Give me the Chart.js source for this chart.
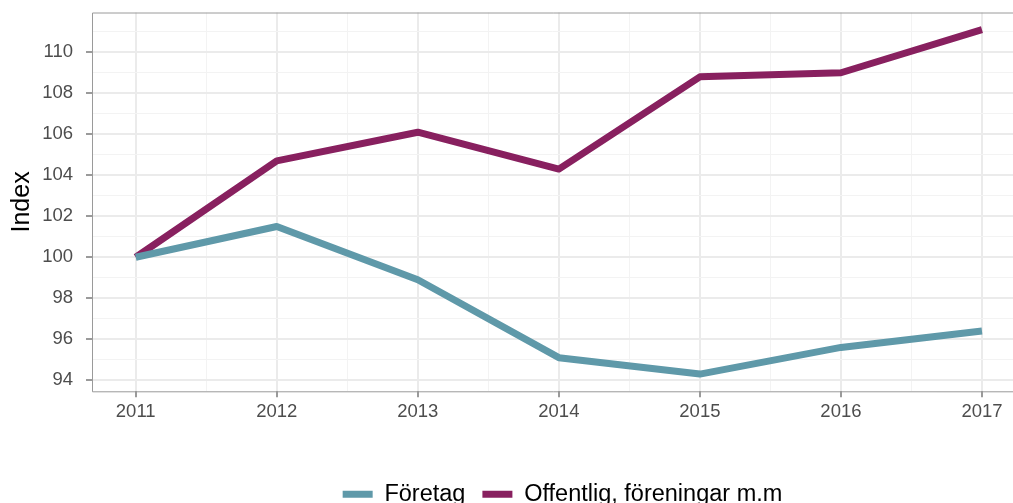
<html>
<head>
    <meta charset="utf-8"/>
    <title>Index</title>
    <script src="https://cdn.jsdelivr.net/npm/chart.js@4"></script>
    <style>
        body { margin: 0; background: #fff; }
        .chart-container { position: relative; width: 1013px; height: 503px; }
    </style>
</head>
<body>
    <div class="chart-container">
        <canvas id="indexChart"></canvas>
    </div>
    <script>
        const years = [2011, 2012, 2013, 2014, 2015, 2016, 2017];
        const foretag = [100, 101.5, 98.9, 95.1, 94.3, 95.6, 96.4];
        const offentlig = [100, 104.7, 106.1, 104.3, 108.8, 109.0, 111.1];
        const yTicks = [94, 96, 98, 100, 102, 104, 106, 108, 110];

        const font = "'Liberation Sans', Arial, sans-serif";
        const majorGrid = '#ebebeb';
        const minorGrid = '#f3f3f3';

        // border on top, left and bottom of the panel
        const panelBorder = {
            id: 'panelBorder',
            afterLayout(chart) {
                // legend in the reference sits a bit right of center and lower
                chart.legend.left += 56;
                chart.legend.right += 56;
                chart.legend.top += 13;
                chart.legend.bottom += 13;
            },
            beforeDatasetsDraw(chart) {
                const a = chart.chartArea;
                const ctx = chart.ctx;
                ctx.save();
                ctx.strokeStyle = '#9a9a9a';
                ctx.lineWidth = 1;
                ctx.beginPath();
                ctx.moveTo(chart.width + 5, a.top + 0.5);
                ctx.lineTo(a.left + 0.5, a.top + 0.5);
                ctx.lineTo(a.left + 0.5, a.bottom + 0.5);
                ctx.lineTo(chart.width + 5, a.bottom + 0.5);
                ctx.stroke();
                ctx.restore();
            }
        };

        function toPoints(values) {
            return years.map((y, i) => ({x: y, y: values[i]}));
        }

        const config = {
            type: 'line',
            data: {
                datasets: [{
                    label: 'Företag',
                    data: toPoints(foretag),
                    borderColor: '#5f99a9',
                    backgroundColor: '#5f99a9',
                    borderWidth: 7,
                    borderCapStyle: 'butt',
                    borderJoinStyle: 'round',
                    pointRadius: 0,
                    tension: 0
                }, {
                    label: 'Offentlig, föreningar m.m',
                    data: toPoints(offentlig),
                    borderColor: '#88205f',
                    backgroundColor: '#88205f',
                    borderWidth: 7,
                    borderCapStyle: 'butt',
                    borderJoinStyle: 'round',
                    pointRadius: 0,
                    tension: 0
                }]
            },
            options: {
                responsive: true,
                maintainAspectRatio: false,
                animation: false,
                layout: { padding: { top: 12.5, right: 0, left: 0, bottom: 0 } },
                plugins: {
                    tooltip: { enabled: false },
                    legend: {
                        position: 'bottom',
                        labels: {
                            font: { family: font, size: 23.5 },
                            color: '#000',
                            boxWidth: 30,
                            boxHeight: 7,
                            padding: 17,
                            generateLabels(chart) {
                                const items = Chart.defaults.plugins.legend.labels.generateLabels(chart);
                                items.forEach(it => { it.lineWidth = 0; });
                                return items;
                            }
                        }
                    }
                },
                scales: {
                    x: {
                        type: 'linear',
                        min: 2010.69,
                        max: 2017.22,
                        afterBuildTicks(axis) {
                            const t = [];
                            for (let v = 2011; v <= 2017; v += 0.5) t.push({value: v});
                            axis.ticks = t;
                        },
                        afterFit(axis) { axis.height += 25; },
                        border: { display: false },
                        grid: {
                            color: c => Number.isInteger(c.tick.value) ? majorGrid : minorGrid,
                            lineWidth: c => Number.isInteger(c.tick.value) ? 2 : 1,
                            tickColor: c => Number.isInteger(c.tick.value) ? '#9a9a9a' : 'rgba(0,0,0,0)',
                            tickLength: 6,
                            drawTicks: true
                        },
                        ticks: {
                            autoSkip: false,
                            maxRotation: 0,
                            padding: 4,
                            font: { family: font, size: 18.5 },
                            color: '#4d4d4d',
                            callback: v => Number.isInteger(v) ? String(v) : ''
                        }
                    },
                    y: {
                        min: 93.46,
                        max: 111.94,
                        afterBuildTicks(axis) {
                            const t = [];
                            for (let v = yTicks[0]; v <= 111; v += 1) t.push({value: v});
                            axis.ticks = t;
                        },
                        afterFit(axis) {
                            axis.width = 92;
                            axis.paddingTop = 0;
                            axis.paddingBottom = 0;
                        },
                        border: { display: false },
                        title: {
                            display: true,
                            text: 'Index',
                            font: { family: font, size: 25 },
                            color: '#000',
                            padding: { top: 7, bottom: 0 }
                        },
                        grid: {
                            color: c => yTicks.includes(c.tick.value) ? majorGrid : minorGrid,
                            lineWidth: c => yTicks.includes(c.tick.value) ? 2 : 1,
                            tickColor: c => yTicks.includes(c.tick.value) ? '#9a9a9a' : 'rgba(0,0,0,0)',
                            tickLength: 6
                        },
                        ticks: {
                            autoSkip: false,
                            padding: 13,
                            font: { family: font, size: 18.5 },
                            color: '#4d4d4d',
                            callback: v => yTicks.includes(v) ? String(v) : ''
                        }
                    }
                }
            },
            plugins: [panelBorder]
        };

        const indexChart = new Chart(document.getElementById('indexChart'), config);
    </script>
</body>
</html>
